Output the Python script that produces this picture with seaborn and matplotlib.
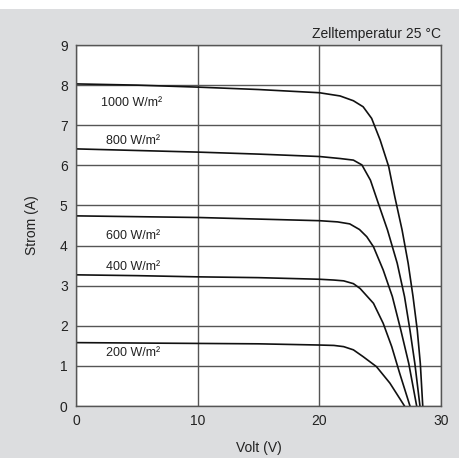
import matplotlib
matplotlib.use("Agg")
import matplotlib.pyplot as plt
import seaborn as sns
import pandas as pd

# I-V curves of a solar module
v_1000 = [0, 5, 10, 15, 20, 21.7, 22.8, 23.6, 24.3, 25.0, 25.7, 26.2, 26.8, 27.3, 27.7, 28.05, 28.3, 28.5]
i_1000 = [8.03, 8.0, 7.95, 7.89, 7.81, 7.73, 7.61, 7.46, 7.17, 6.63, 5.97, 5.22, 4.39, 3.56, 2.73, 1.89, 1.06, 0]

v_800 = [0, 5, 10, 15, 20, 21.7, 22.8, 23.5, 24.2, 24.85, 25.6, 26.4, 27.0, 27.45, 27.85, 28.27]
i_800 = [6.41, 6.37, 6.33, 6.28, 6.22, 6.17, 6.13, 6.01, 5.63, 5.05, 4.39, 3.56, 2.73, 1.89, 1.06, 0]

v_600 = [0, 5, 10, 15, 20, 21.5, 22.5, 23.3, 23.9, 24.45, 25.25, 26.0, 26.7, 27.35, 28.0]
i_600 = [4.74, 4.72, 4.7, 4.66, 4.62, 4.59, 4.54, 4.40, 4.22, 3.97, 3.39, 2.73, 1.89, 1.06, 0]

v_400 = [0, 5, 10, 15, 20, 21.2, 22.0, 22.8, 23.35, 24.45, 25.25, 25.95, 26.6, 27.45]
i_400 = [3.27, 3.25, 3.22, 3.2, 3.16, 3.14, 3.12, 3.05, 2.93, 2.56, 2.06, 1.48, 0.82, 0]

v_200 = [0, 5, 10, 15, 20, 21.2, 22.0, 22.8, 23.6, 24.7, 25.8, 27.0]
i_200 = [1.58, 1.57, 1.56, 1.55, 1.52, 1.51, 1.48, 1.40, 1.23, 0.98, 0.57, 0]

labels = ["1000 W/m²", "800 W/m²", "600 W/m²", "400 W/m²", "200 W/m²"]
label_x = [2.05, 2.45, 2.45, 2.45, 2.45]
label_y = [7.55, 6.6, 4.24, 3.47, 1.32]

curves = [(v_1000, i_1000), (v_800, i_800), (v_600, i_600), (v_400, i_400), (v_200, i_200)]
df = pd.concat([pd.DataFrame({"Volt": v, "Strom": i, "curve": lab})
                for (v, i), lab in zip(curves, labels)], ignore_index=True)

sns.set_style("white")
plt.rcParams["font.family"] = ["Liberation Sans", "DejaVu Sans"]

bg = "#dcdddf"
fig = plt.figure(figsize=(4.59, 4.58), dpi=100, facecolor=bg)
ax = fig.add_axes([76 / 459, 1 - 406 / 458, 365 / 459, 361 / 458])
# white strip along the top edge
fig.patches.append(plt.Rectangle((0, 1 - 9 / 458), 1, 9 / 458, transform=fig.transFigure,
                                 facecolor="white", edgecolor="none", zorder=0))

sns.lineplot(data=df, x="Volt", y="Strom", units="curve", estimator=None, sort=False,
             color="#111111", linewidth=1.2, ax=ax)

ax.set_xlim(0, 30)
ax.set_ylim(0, 9)
ax.set_xticks([0, 10, 20, 30])
ax.set_yticks(range(10))
ax.grid(True, color="#555555", linewidth=1.0)
ax.set_axisbelow(True)
for s in ax.spines.values():
    s.set_color("#555555")
    s.set_linewidth(1.0)
ax.tick_params(length=0, labelsize=10, colors="#222222", pad=6)

for lab, x, y in zip(labels, label_x, label_y):
    ax.text(x, y, lab, fontsize=9, color="#222222", va="center", ha="left")

ax.text(1.0, 1.012, "Zelltemperatur 25 °C", transform=ax.transAxes, ha="right", va="bottom",
        fontsize=10, color="#222222")

ax.set_xlabel("Volt (V)", fontsize=10, color="#222222", labelpad=9)
ax.set_ylabel("Strom (A)", fontsize=10, color="#222222", labelpad=15)

fig.savefig("out.png", dpi=100, facecolor=bg)
